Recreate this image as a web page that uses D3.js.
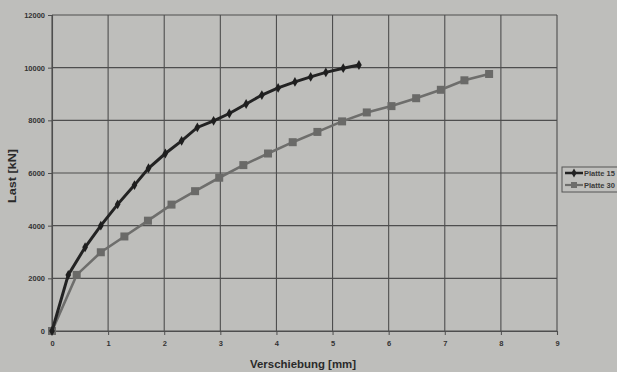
<!DOCTYPE html>
<html lang="de">
<head>
    <meta charset="UTF-8">
    <title>Last-Verschiebung</title>
    <script src="https://cdnjs.cloudflare.com/ajax/libs/d3/7.8.5/d3.min.js"></script>
    <style>
        body {
            margin: 0;
            background-color: #bebebb;
            overflow: hidden;
        }

        svg text {
            font-family: "Liberation Sans", Arial, sans-serif;
            fill: #2a2a2a;
        }
    </style>
</head>
<body>
<div id="chart"></div>
<script>
    // Platte 15 (dark, diamonds)
    const p15X = [0, 0.29, 0.59, 0.87, 1.17, 1.47, 1.72, 2.02, 2.31, 2.59, 2.88, 3.16, 3.46, 3.74, 4.03, 4.33, 4.61, 4.88, 5.19, 5.47];
    const p15Y = [0, 2130, 3180, 4000, 4810, 5540, 6180, 6740, 7220, 7730, 7980, 8260, 8620, 8960, 9230, 9460, 9650, 9820, 9980, 10100];

    // Platte 30 (grey, squares)
    const p30X = [0, 0.44, 0.87, 1.29, 1.71, 2.13, 2.55, 2.98, 3.41, 3.85, 4.29, 4.73, 5.17, 5.61, 6.05, 6.49, 6.93, 7.35, 7.79];
    const p30Y = [0, 2130, 2990, 3590, 4190, 4800, 5310, 5820, 6300, 6740, 7170, 7560, 7960, 8300, 8540, 8840, 9160, 9520, 9760];

    const seriesNames = ['Platte 15', 'Platte 30'];
    const xTicks = [0, 1, 2, 3, 4, 5, 6, 7, 8, 9];
    const yTicks = [0, 2000, 4000, 6000, 8000, 10000, 12000];

    const width = 617;
    const height = 372;
    const margin = {top: 15, right: 60, bottom: 41, left: 52};

    const svg = d3.select('#chart')
        .append('svg')
        .attr('width', width)
        .attr('height', height);

    const x = d3.scaleLinear().domain([0, 9]).range([margin.left, width - margin.right]);
    const y = d3.scaleLinear().domain([0, 12000]).range([height - margin.bottom, margin.top]);

    const gridColor = '#4e4e4e';

    // grid
    svg.append('g')
        .selectAll('line')
        .data(yTicks)
        .join('line')
        .attr('x1', x(0)).attr('x2', x(9))
        .attr('y1', d => y(d)).attr('y2', d => y(d))
        .attr('stroke', gridColor).attr('stroke-width', 1.1);

    svg.append('g')
        .selectAll('line')
        .data(xTicks)
        .join('line')
        .attr('x1', d => x(d)).attr('x2', d => x(d))
        .attr('y1', y(0)).attr('y2', y(12000))
        .attr('stroke', gridColor).attr('stroke-width', 1.1);

    // axes
    const xAxis = d3.axisBottom(x).tickValues(xTicks).tickSize(4).tickPadding(6).tickFormat(d3.format('d'));
    const yAxis = d3.axisLeft(y).tickValues(yTicks).tickSize(4).tickPadding(3).tickFormat(d3.format('d'));

    const gx = svg.append('g').attr('transform', `translate(0, ${y(0)})`).call(xAxis);
    const gy = svg.append('g').attr('transform', `translate(${x(0)}, 0)`).call(yAxis);
    [gx, gy].forEach(g => {
        g.select('.domain').attr('stroke', gridColor).attr('stroke-width', 1.1);
        g.selectAll('.tick line').attr('stroke', gridColor);
        g.selectAll('.tick text').attr('font-size', 7.5).attr('font-weight', 'bold').style('fill', '#333');
    });

    // titles
    svg.append('text')
        .attr('x', 303).attr('y', 368)
        .attr('text-anchor', 'middle')
        .attr('font-size', 11.5).attr('font-weight', 'bold')
        .attr('textLength', 106).attr('lengthAdjust', 'spacingAndGlyphs')
        .text('Verschiebung [mm]');

    svg.append('text')
        .attr('transform', `translate(16, 176) rotate(-90)`)
        .attr('text-anchor', 'middle')
        .attr('font-size', 11.5).attr('font-weight', 'bold')
        .attr('textLength', 54).attr('lengthAdjust', 'spacingAndGlyphs')
        .text('Last [kN]');

    // series
    const lineGen = d3.line().x(d => x(d[0])).y(d => y(d[1]));
    const p15 = p15X.map((v, i) => [v, p15Y[i]]);
    const p30 = p30X.map((v, i) => [v, p30Y[i]]);

    svg.append('path').datum(p30)
        .attr('d', lineGen).attr('fill', 'none')
        .attr('stroke', '#6e6e6c').attr('stroke-width', 2.6);
    svg.append('g').selectAll('rect')
        .data(p30).join('rect')
        .attr('x', d => x(d[0]) - 4).attr('y', d => y(d[1]) - 4)
        .attr('width', 8).attr('height', 8)
        .attr('fill', '#6a6a68');

    svg.append('path').datum(p15)
        .attr('d', lineGen).attr('fill', 'none')
        .attr('stroke', '#232323').attr('stroke-width', 3);
    svg.append('g').selectAll('path.dia')
        .data(p15).join('path')
        .attr('class', 'dia')
        .attr('d', d3.symbol().type(d3.symbolDiamond).size(28))
        .attr('transform', d => `translate(${x(d[0])}, ${y(d[1])})`)
        .attr('fill', '#1e1e1e');

    // legend box runs off the right edge, as in the scan
    const legend = svg.append('g').attr('transform', 'translate(562, 167)');
    legend.append('rect')
        .attr('width', 80).attr('height', 25)
        .attr('fill', '#c0c0bd').attr('stroke', '#555').attr('stroke-width', 1);

    const legendColors = ['#232323', '#6e6e6c'];
    seriesNames.forEach((name, i) => {
        const ly = 6 + i * 12;
        legend.append('line')
            .attr('x1', 3).attr('x2', 21).attr('y1', ly).attr('y2', ly)
            .attr('stroke', legendColors[i]).attr('stroke-width', i === 0 ? 2.5 : 2.2);
        if (i === 0) {
            legend.append('path')
                .attr('d', d3.symbol().type(d3.symbolDiamond).size(24))
                .attr('transform', `translate(12, ${ly})`)
                .attr('fill', legendColors[i]);
        } else {
            legend.append('rect')
                .attr('x', 9).attr('y', ly - 3).attr('width', 6).attr('height', 6)
                .attr('fill', legendColors[i]);
        }
        legend.append('text')
            .attr('x', 22).attr('y', ly + 3)
            .attr('font-size', 8).attr('font-weight', 'bold')
            .attr('textLength', 31).attr('lengthAdjust', 'spacingAndGlyphs')
            .style('fill', '#3a3a3a')
            .text(name);
    });
</script>
</body>
</html>
